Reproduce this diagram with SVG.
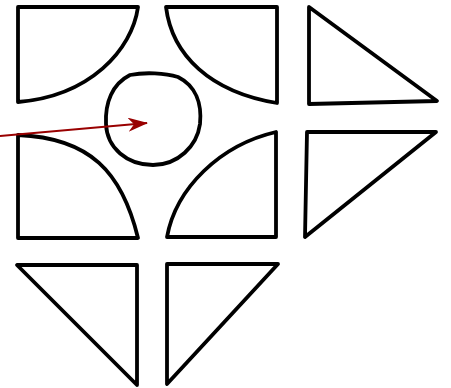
<svg xmlns="http://www.w3.org/2000/svg" width="451" height="388" viewBox="0 0 451 388">
<style>
.s{fill:#fff;stroke:#000;stroke-width:3.8;stroke-linejoin:round;stroke-linecap:round}
.c{fill:none;stroke:#990000;stroke-width:2}
</style>
<defs>
<marker id="ah" viewBox="0 0 20 14" refX="19" refY="7" markerWidth="20" markerHeight="14" markerUnits="userSpaceOnUse" orient="auto">
<path d="M0,0 L20,7 L0,14 L6,7 Z" fill="#990000"/>
</marker>
</defs>
<rect width="451" height="388" fill="#fff"/>
<g id="q1"><path class="s" d="M18,7 L138,7 C132,50 90,96 18,102 Z"/></g>
<g id="q2"><path class="s" d="M166,7 L277,7 L277,103 C210,92 172,55 166,7 Z"/></g>
<g id="t1"><path class="s" d="M309,7 L437,101 L309,104 Z"/></g>
<g id="circle"><path class="s" d="M130,75 C145,72 165,73 178,77 C196,86 202,104 200,124 C197,146 178,165 153,165 C127,165 107,148 106,124 C105,103 112,84 130,75 Z"/></g>
<g id="q3"><path class="s" d="M18,135 C90,138 122,172 138,238 L18,238 Z"/></g>
<g id="q4"><path class="s" d="M276,132 L276,237 L167,237 C176,188 220,145 276,132 Z"/></g>
<g id="t2"><path class="s" d="M307,132 L436,132 L305,237 Z"/></g>
<g id="t3"><path class="s" d="M17,265 L137,265 L137,385 Z"/></g>
<g id="t4"><path class="s" d="M167,264 L278,264 L167,384 Z"/></g>
<g id="connectors"><path class="c" d="M0,136 L147,123" marker-end="url(#ah)"/></g>
</svg>
